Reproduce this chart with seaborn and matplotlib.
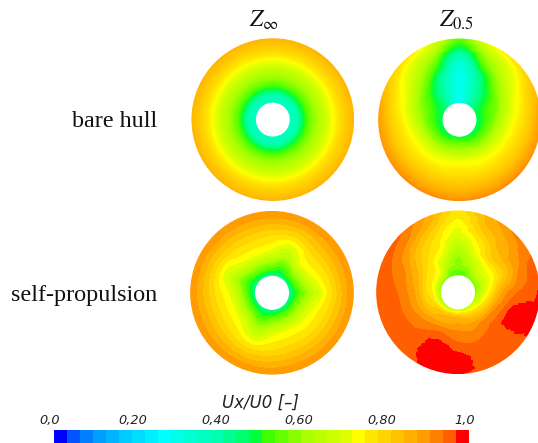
import numpy as np
import matplotlib
matplotlib.use('Agg')
import matplotlib.pyplot as plt
import matplotlib.tri as mtri
from matplotlib.colors import LinearSegmentedColormap, ListedColormap
from matplotlib.patches import Circle
import seaborn as sns

# Ux/U0, rows = angle (deg, ccw from east), columns = radius
angles = [0, 22.5, 45, 67.5, 90, 112.5, 135, 157.5, 180, 202.5, 225, 247.5, 270, 292.5, 315, 337.5]
radii = [0.2, 0.3, 0.4, 0.5, 0.6, 0.7, 0.8, 0.9, 1.0]

bare_inf_profile = [0.34, 0.385, 0.50, 0.58, 0.64, 0.71, 0.77, 0.82, 0.86]

bare_05 = [
    [.46, .50, .55, .63, .70, .75, .79, .845, .90],
    [.46, .49, .53, .57, .64, .71, .75, .80, .845],
    [.42, .44, .46, .50, .56, .62, .68, .72, .78],
    [.33, .34, .36, .38, .42, .50, .57, .65, .72],
    [.26, .27, .28, .28, .29, .31, .38, .48, .55],
    [.33, .34, .36, .38, .42, .50, .57, .65, .72],
    [.42, .44, .46, .50, .56, .62, .68, .72, .78],
    [.46, .49, .53, .57, .64, .71, .75, .80, .845],
    [.46, .50, .55, .63, .70, .75, .79, .845, .90],
    [.46, .51, .58, .67, .73, .77, .81, .86, .91],
    [.46, .52, .60, .69, .74, .78, .82, .87, .92],
    [.46, .54, .62, .71, .75, .785, .83, .87, .92],
    [.46, .56, .63, .72, .76, .79, .83, .87, .92],
    [.46, .54, .62, .71, .75, .785, .83, .87, .92],
    [.46, .52, .60, .69, .74, .78, .82, .87, .92],
    [.46, .51, .58, .67, .73, .77, .81, .86, .91],
]

self_inf = [
    [.42, .50, .57, .64, .70, .76, .815, .865, .905],
    [.42, .525, .62, .70, .745, .78, .825, .867, .905],
    [.42, .535, .63, .72, .755, .79, .83, .87, .905],
    [.42, .50, .57, .64, .70, .76, .815, .865, .905],
    [.42, .525, .62, .70, .745, .78, .825, .867, .905],
    [.42, .535, .63, .72, .755, .79, .83, .87, .905],
    [.42, .525, .62, .70, .745, .78, .825, .867, .905],
    [.42, .50, .57, .64, .70, .76, .815, .865, .905],
    [.42, .525, .62, .70, .745, .78, .825, .867, .905],
    [.42, .535, .63, .72, .755, .79, .83, .87, .905],
    [.42, .525, .62, .70, .745, .78, .825, .867, .905],
    [.42, .50, .57, .64, .70, .76, .815, .865, .905],
    [.42, .525, .62, .70, .745, .78, .825, .867, .905],
    [.42, .535, .63, .72, .755, .79, .83, .87, .905],
    [.42, .53, .625, .71, .75, .785, .827, .868, .905],
    [.42, .525, .62, .70, .745, .78, .825, .867, .905],
]

self_05 = [
    [.57, .67, .76, .85, .905, .93, .945, .955, .975],
    [.545, .64, .71, .76, .815, .86, .905, .935, .945],
    [.535, .64, .70, .75, .815, .845, .86, .885, .915],
    [.535, .58, .64, .70, .734, .77, .815, .845, .86],
    [.51, .57, .585, .61, .655, .70, .72, .75, .77],
    [.53, .585, .655, .71, .75, .77, .80, .845, .87],
    [.535, .70, .75, .77, .80, .83, .87, .915, .94],
    [.55, .72, .77, .83, .87, .905, .92, .94, .95],
    [.57, .734, .79, .86, .90, .93, .945, .95, .95],
    [.58, .76, .815, .87, .91, .935, .945, .95, .95],
    [.585, .80, .85, .90, .93, .945, .95, .95, .95],
    [.61, .83, .87, .925, .96, .985, .99, .99, .975],
    [.64, .83, .88, .915, .935, .96, .99, .99, .97],
    [.64, .80, .87, .905, .93, .945, .945, .945, .95],
    [.64, .77, .85, .925, .945, .95, .95, .945, .945],
    [.61, .72, .82, .905, .945, .985, .99, .99, .985],
]

band_colors = ['#0000ff', '#0055ff', '#0080ff', '#009fff', '#00b4ff', '#00ccff', '#00ddff', '#00eeff',
               '#00ffff', '#00ffe6', '#00ffd2', '#00ffc0', '#00ffb0', '#00ff90', '#00ff70', '#00ff3c',
               '#40ff00', '#66ff00', '#88ff00', '#aaff00', '#bbff00', '#ccff00', '#ddff00', '#ffff00',
               '#ffe600', '#ffd400', '#ffc400', '#ffb000', '#ff9c00', '#ff8000', '#ff5f00', '#ff0000']

col_titles = [r'$Z_{\infty}$', r'$Z_{0.5}$']
row_titles = ['bare hull', 'self-propulsion']
cbar_ticks = [0.0, 0.2, 0.4, 0.6, 0.8, 1.0]
cbar_labels = ['0,0', '0,20', '0,40', '0,60', '0,80', '1,0']
n_bands = len(band_colors)

sns.set_theme(style='white')
plt.rcParams['font.family'] = ['Liberation Serif', 'DejaVu Serif']
plt.rcParams['mathtext.fontset'] = 'stix'

W, H = 538, 443
fig = plt.figure(figsize=(W / 100, H / 100), dpi=100)

band_cmap = ListedColormap(band_colors)
smooth_cmap = LinearSegmentedColormap.from_list('smooth', band_colors, N=256)
band_levels = np.linspace(0, 1, n_bands + 1)
smooth_levels = np.linspace(0, 1, 129)


def px_axes(x0, y0, x1, y1):
    # pixel box measured from the top left of the picture
    return fig.add_axes([x0 / W, 1 - y1 / H, (x1 - x0) / W, (y1 - y0) / H])


def panel(cx, cy, R, field, levels, cmap):
    ax = px_axes(cx - R, cy - R, cx + R, cy + R)
    ax.set_xlim(-1, 1)
    ax.set_ylim(-1, 1)
    ax.axis('off')
    ax.patch.set_alpha(0)

    # refine in (angle, radius) so the bands stay round, then map to the disc
    z = np.asarray(field, dtype=float)
    z = np.vstack([z, z[0]])
    th = np.deg2rad(np.array(angles + [360.0]))
    tt, rr = np.meshgrid(th, 3.9 * np.array(radii), indexing='ij')
    tri = mtri.Triangulation(tt.ravel(), rr.ravel())
    interp = mtri.CubicTriInterpolator(tri, z.ravel(), kind='geom')
    fine, zf = mtri.UniformTriRefiner(tri).refine_field(z.ravel(), triinterpolator=interp, subdiv=4)
    fr = fine.y / 3.9
    disc = mtri.Triangulation(fr * np.cos(fine.x), fr * np.sin(fine.x), fine.triangles)
    ax.tricontourf(disc, np.clip(zf, 0.001, 0.999), levels=levels, cmap=cmap, vmin=0, vmax=1)

    # soft white edges
    ax.add_patch(Circle((0, 0), 0.208, fc='white', ec='none', zorder=3))
    ax.add_patch(Circle((0, 0), 1.015, fc='none', ec='white', lw=2, zorder=3))
    return ax


bare_inf = np.tile(bare_inf_profile, (len(angles), 1))
panel(272.8, 119.6, 81.5, bare_inf, smooth_levels, smooth_cmap)
panel(459.5, 119.8, 81.5, bare_05, smooth_levels, smooth_cmap)
panel(272.0, 292.8, 82.0, self_inf, band_levels, band_cmap)
panel(458.0, 292.3, 82.0, self_05, band_levels, band_cmap)

fig.text(264 / W, 1 - 27 / H, col_titles[0], fontsize=17, ha='center', va='baseline', color='#111111')
fig.text(456 / W, 1 - 27 / H, col_titles[1], fontsize=17, ha='center', va='baseline', color='#111111')
fig.text(157 / W, 1 - 121.5 / H, row_titles[0], fontsize=17.4, ha='right', va='center', color='#111111')
fig.text(157 / W, 1 - 295 / H, row_titles[1], fontsize=17.4, ha='right', va='center', color='#111111')

# colour bar
cax = px_axes(54, 430, 469.3, 443)
bands = (np.arange(n_bands) + 0.5)[None, :] / n_bands
sns.heatmap(bands, ax=cax, cmap=band_cmap, vmin=0, vmax=1, cbar=False,
            xticklabels=False, yticklabels=False)
for v, lab in zip(cbar_ticks, cbar_labels):
    cax.annotate(lab, (v * n_bands, 0), xytext=(-3, 2.5), textcoords='offset points',
                 ha='center', va='bottom', fontsize=9.3, style='italic',
                 family='DejaVu Sans', color='#222222', annotation_clip=False)
fig.text(261 / W, 1 - 408 / H, 'Ux/U0 [–]', fontsize=12, style='italic', family='DejaVu Sans',
         ha='center', va='baseline', color='#222222')

fig.savefig('out.png', dpi=100)
